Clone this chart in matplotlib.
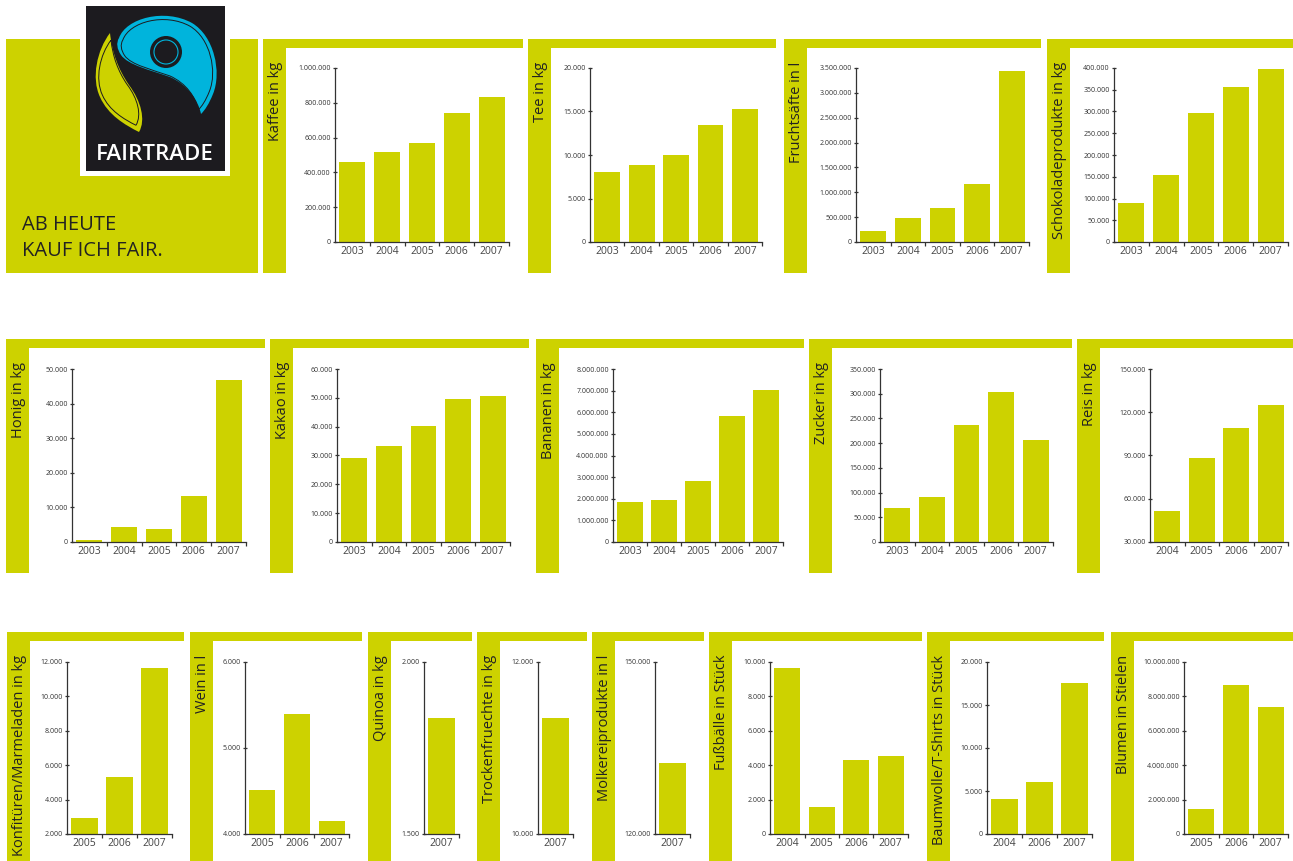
import matplotlib
matplotlib.use("Agg")
import matplotlib.pyplot as plt
from matplotlib.patches import Rectangle, PathPatch, Circle
from matplotlib.path import Path
from matplotlib.ticker import FuncFormatter

plt.rcParams["font.family"] = ["Open Sans", "DejaVu Sans"]

GREEN = "#cdd200"
DARK = "#333333"
W, H = 1293, 861

# ---- data ----
years_0307 = ["2003", "2004", "2005", "2006", "2007"]
years_0407 = ["2004", "2005", "2006", "2007"]
years_0507 = ["2005", "2006", "2007"]
years_04_06_07 = ["2004", "2006", "2007"]
years_07 = ["2007"]

kaffee = [462000, 519000, 571000, 743000, 835000]
tee = [8100, 8900, 9950, 13500, 15250]
fruchtsaefte = [216000, 480000, 682000, 1169000, 3439000]
schokolade = [90000, 153000, 296000, 356000, 398000]
honig = [480, 4250, 3670, 13220, 46800]
kakao = [29070, 33240, 40190, 49580, 50620]
bananen = [1838000, 1930000, 2810000, 5820000, 7030000]
zucker = [68200, 90500, 236500, 303400, 206000]
reis = [51300, 88100, 109000, 125000]
konfitueren = [2930, 5300, 11670]
wein = [4513, 5394, 4154]
quinoa = [1837]
trockenfruechte = [11347]
molkerei = [132450]
fussbaelle = [9633, 1583, 4305, 4537]
baumwolle = [4093, 6062, 17529]
blumen = [1467000, 8650000, 7375000]

kaffee_ticks = [0, 200000, 400000, 600000, 800000, 1000000]
tee_ticks = [0, 5000, 10000, 15000, 20000]
frucht_ticks = [0, 500000, 1000000, 1500000, 2000000, 2500000, 3000000, 3500000]
schoko_ticks = [0, 50000, 100000, 150000, 200000, 250000, 300000, 350000, 400000]
honig_ticks = [0, 10000, 20000, 30000, 40000, 50000]
kakao_ticks = [0, 10000, 20000, 30000, 40000, 50000, 60000]
bananen_ticks = [0, 1000000, 2000000, 3000000, 4000000, 5000000, 6000000, 7000000, 8000000]
zucker_ticks = [0, 50000, 100000, 150000, 200000, 250000, 300000, 350000]
reis_ticks = [30000, 60000, 90000, 120000, 150000]
konf_ticks = [2000, 4000, 6000, 8000, 10000, 12000]
wein_ticks = [4000, 5000, 6000]
quinoa_ticks = [1500, 2000]
trocken_ticks = [10000, 12000]
molkerei_ticks = [120000, 150000]
fussball_ticks = [0, 2000, 4000, 6000, 8000, 10000]
baumwolle_ticks = [0, 5000, 10000, 15000, 20000]
blumen_ticks = [0, 2000000, 4000000, 6000000, 8000000, 10000000]

charts = [
    ("Kaffee in kg", years_0307, kaffee, kaffee_ticks),
    ("Tee in kg", years_0307, tee, tee_ticks),
    ("Fruchtsäfte in l", years_0307, fruchtsaefte, frucht_ticks),
    ("Schokoladeprodukte in kg", years_0307, schokolade, schoko_ticks),
    ("Honig in kg", years_0307, honig, honig_ticks),
    ("Kakao in kg", years_0307, kakao, kakao_ticks),
    ("Bananen in kg", years_0307, bananen, bananen_ticks),
    ("Zucker in kg", years_0307, zucker, zucker_ticks),
    ("Reis in kg", years_0407, reis, reis_ticks),
    ("Konfitüren/Marmeladen in kg", years_0507, konfitueren, konf_ticks),
    ("Wein in l", years_0507, wein, wein_ticks),
    ("Quinoa in kg", years_07, quinoa, quinoa_ticks),
    ("Trockenfruechte in kg", years_07, trockenfruechte, trocken_ticks),
    ("Molkereiprodukte in l", years_07, molkerei, molkerei_ticks),
    ("Fußbälle in Stück", years_0407, fussbaelle, fussball_ticks),
    ("Baumwolle/T-Shirts in Stück", years_04_06_07, baumwolle, baumwolle_ticks),
    ("Blumen in Stielen", years_0507, blumen, blumen_ticks),
]

# ---- layout in pixels ----
# row: (panel top, panel bottom, axes top, axes bottom)
rows = [(39, 273, 68, 242), (339, 573, 369, 542), (632, 861, 662, 834)]
# (row, panel x0, panel x1, axes x0, axes x1)
layout = [
    (0, 263, 523, 335, 509), (0, 528, 776, 590, 762),
    (0, 784, 1041, 856, 1029), (0, 1047, 1293, 1114, 1288),
    (1, 6, 265, 72, 246), (1, 270, 529, 337, 510),
    (1, 536, 804, 613, 783), (1, 809, 1072, 880, 1053),
    (1, 1077, 1293, 1150, 1288),
    (2, 7, 184, 67, 172), (2, 190, 362, 245, 349),
    (2, 368, 472, 424, 459), (2, 477, 587, 538, 573),
    (2, 592, 704, 655, 690), (2, 709, 922, 770, 908),
    (2, 927, 1104, 987, 1092), (2, 1111, 1293, 1184, 1288),
]


def de_fmt(v, pos=None):
    return f"{v:,.0f}".replace(",", ".")


def frac(x0, y0, x1, y1):
    return [x0 / W, 1 - y1 / H, (x1 - x0) / W, (y1 - y0) / H]


fig = plt.figure(figsize=(W / 100, H / 100), dpi=100)
bg = fig.add_axes([0, 0, 1, 1])
bg.set_xlim(0, W)
bg.set_ylim(H, 0)
bg.axis("off")

# logo panel
bg.add_patch(Rectangle((6, 39), 252, 234, color=GREEN, lw=0))
bg.add_patch(Rectangle((80, 0), 150, 176, color="white", lw=0))
bg.add_patch(Rectangle((86, 6), 139, 165, color="#1c1b1f", lw=0))


def shrink(verts, k):
    cx = sum(v[0] for v in verts) / len(verts)
    cy = sum(v[1] for v in verts) / len(verts)
    return [(cx + k * (x - cx), cy + k * (y - cy)) for x, y in verts]


leaf = [(110, 33), (97, 50), (91, 78), (100, 97), (108, 115), (125, 125), (139, 132),
        (146, 120), (141, 101), (129, 85), (118, 69), (112, 52), (110, 33)]
blob = [(119, 38), (126, 18), (165, 8), (192, 23), (214, 36), (222, 72), (213, 94),
        (209, 104), (205, 110), (201, 114), (198, 100), (188, 85), (170, 77),
        (150, 70), (128, 65), (121, 55), (117, 49), (116, 43), (119, 38)]


def codes_for(n):
    return [Path.MOVETO] + [Path.CURVE4] * (n - 1)


bg.add_patch(PathPatch(Path(leaf, codes_for(len(leaf))), fc=GREEN, ec="none"))
bg.add_patch(PathPatch(Path(shrink(leaf, 0.86), codes_for(len(leaf))), fc="none", ec="#1c1b1f", lw=0.7))
bg.add_patch(PathPatch(Path(blob, codes_for(len(blob))), fc="#00b4dc", ec="none"))
bg.add_patch(PathPatch(Path(shrink(blob, 0.92), codes_for(len(blob))), fc="none", ec="#1c1b1f", lw=0.7))
bg.add_patch(Circle((166, 52), 16, fc="#1c1b1f", ec="none"))
bg.add_patch(Circle((166, 52), 12, fc="none", ec="#00b4dc", lw=0.8))
bg.text(155, 160, "FAIRTRADE", color="white", fontsize=16, fontweight="semibold",
        ha="center", va="baseline")

bg.text(22, 230, "AB HEUTE", color="#222222", fontsize=14.5, va="baseline")
bg.text(22, 256, "KAUF ICH FAIR.", color="#222222", fontsize=14.5, va="baseline")

for (label, years, values, ticks), (r, px0, px1, ax0, ax1) in zip(charts, layout):
    ptop, pbot, atop, abot = rows[r]
    # green frame: top bar + left bar
    bg.add_patch(Rectangle((px0, ptop), px1 - px0, 9, color=GREEN, lw=0))
    bg.add_patch(Rectangle((px0, ptop), 23, pbot - ptop, color=GREEN, lw=0))
    bg.text(px0 + 12.5, ptop + 23, label, rotation=90, ha="center", va="top",
            fontsize=10.5, color="#222222")

    ax = fig.add_axes(frac(ax0, atop, ax1, abot))
    ax.set_facecolor("none")
    n = len(years)
    xs = list(range(n))
    ax.bar(xs, values, width=0.75, color=GREEN, zorder=1)
    ax.set_xlim(-0.5, n - 0.5)
    ax.set_ylim(ticks[0], ticks[-1])
    for s in ("top", "right"):
        ax.spines[s].set_visible(False)
    for s in ("left", "bottom"):
        ax.spines[s].set_color(DARK)
        ax.spines[s].set_linewidth(0.9)
        ax.spines[s].set_zorder(3)
    ax.set_xticks(xs, years)
    ax.set_xticks([i + 0.5 for i in xs], minor=True)
    ax.tick_params(axis="x", which="major", length=0, labelsize=7.5, labelcolor="#444444", pad=3)
    ax.tick_params(axis="x", which="minor", length=3, width=0.9, color=DARK, direction="out")
    ax.set_yticks(ticks)
    ax.yaxis.set_major_formatter(FuncFormatter(de_fmt))
    ax.tick_params(axis="y", length=3, width=0.9, color=DARK, direction="inout",
                   labelsize=5, labelcolor="#333333", pad=1.5)

fig.savefig("out.png", dpi=100)
